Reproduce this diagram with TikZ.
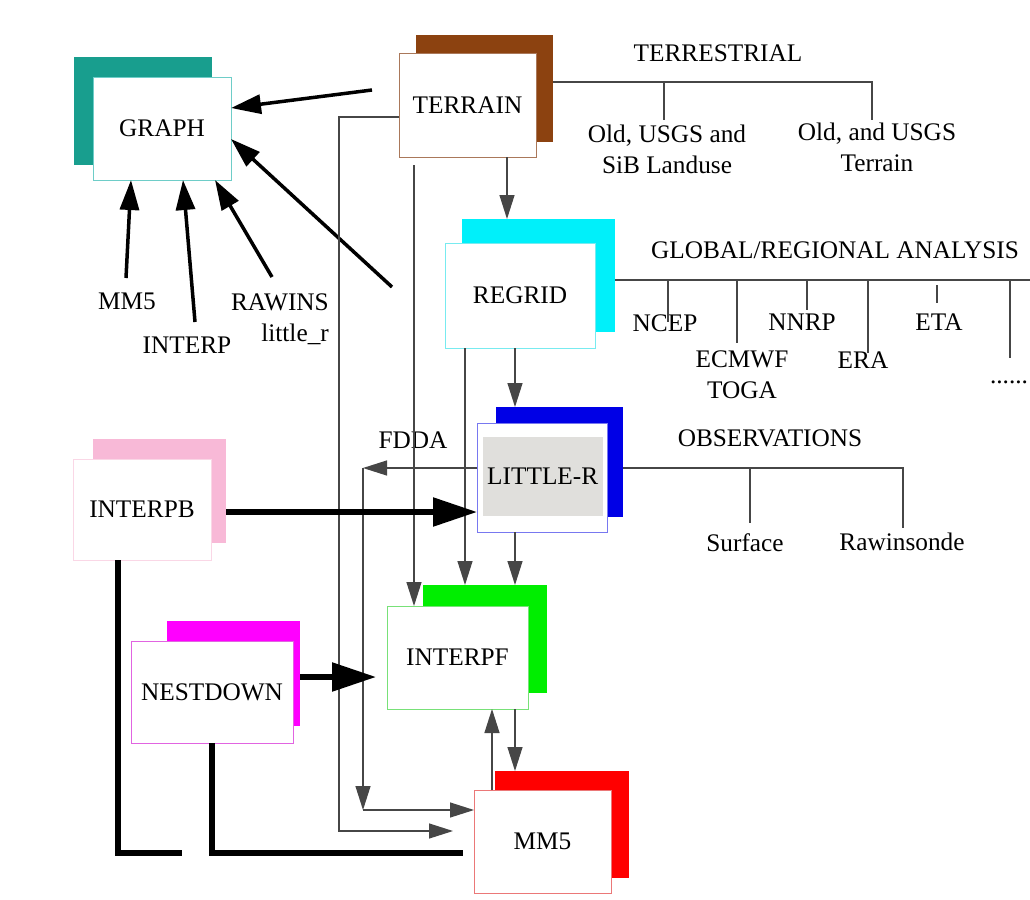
\documentclass[tikz,border=0pt]{standalone}
\usepackage{fontspec}
\setmainfont{Liberation Serif}
\usetikzlibrary{arrows.meta}
\definecolor{cGraph}{RGB}{24,158,142}
\definecolor{cGraphB}{RGB}{110,205,200}
\definecolor{cTerr}{RGB}{140,66,16}
\definecolor{cTerrB}{RGB}{170,120,90}
\definecolor{cRegrid}{RGB}{0,240,250}
\definecolor{cRegridB}{RGB}{120,235,240}
\definecolor{cLittle}{RGB}{0,0,230}
\definecolor{cLittleB}{RGB}{120,120,240}
\definecolor{cLittleF}{RGB}{224,223,220}
\definecolor{cInterpf}{RGB}{0,238,0}
\definecolor{cInterpfB}{RGB}{120,225,120}
\definecolor{cMM}{RGB}{255,0,0}
\definecolor{cMMB}{RGB}{235,120,120}
\definecolor{cInterpb}{RGB}{248,185,215}
\definecolor{cInterpbB}{RGB}{250,215,230}
\definecolor{cNest}{RGB}{255,0,255}
\definecolor{cNestB}{RGB}{225,100,225}
\definecolor{cLine}{RGB}{70,70,70}
\begin{document}
\begin{tikzpicture}[x=1pt,y=-1pt,
  txt/.style={font=\fontsize{25.3}{31}\selectfont},
  shad/.style={inner sep=0pt, outer sep=0pt, draw=none},
  box/.style={txt, draw, line width=1pt, fill=white, inner sep=0pt, outer sep=0pt},
  lbl/.style={txt, inner sep=0pt, anchor=base, align=center},
  thinline/.style={draw=cLine, line width=1.3pt},
  thintip/.style={-{Triangle[length=24pt,width=15pt]}},
  garrow/.style={draw=black, line width=3.5pt, -{Triangle[length=30pt,width=19pt]}},
  barrow/.style={draw=black, line width=5.5pt, -{Triangle[length=44pt,width=28pt]}},
  bus/.style={draw=black, line width=5.5pt, line join=miter},
]
\useasboundingbox[fill=white] (0,0) rectangle (1030,899);

% shadows
\node[shad, fill=cGraph,   minimum width=138pt, minimum height=108pt] (graphS)    at (143,111) {};
\node[shad, fill=cTerr,    minimum width=137pt, minimum height=107pt] (terrainS)  at (484.5,88.5) {};
\node[shad, fill=cRegrid,  minimum width=153pt, minimum height=113pt] (regridS)   at (538.5,275.5) {};
\node[shad, fill=cLittle,  minimum width=127pt, minimum height=110pt] (littlerS)  at (559.5,462) {};
\node[shad, fill=cInterpf, minimum width=124pt, minimum height=108pt] (interpfS)  at (485,639) {};
\node[shad, fill=cMM,      minimum width=134pt, minimum height=107pt] (mmS)       at (562,824.5) {};
\node[shad, fill=cInterpb, minimum width=133pt, minimum height=104pt] (interpbS)  at (159.5,491) {};
\node[shad, fill=cNest,    minimum width=133pt, minimum height=105pt] (nestdownS) at (233.5,673.5) {};

% front boxes
\node[box, draw=cGraphB,   minimum width=138pt, minimum height=103pt] (graph)    at (162,128.5) {GRAPH};
\node[box, draw=cTerrB,    minimum width=137pt, minimum height=103pt] (terrain)  at (467.5,105.5) {TERRAIN};
\node[box, draw=cRegridB,  minimum width=150pt, minimum height=105pt] (regrid)   at (520,295.5) {REGRID};
\node[box, draw=cLittleB,  minimum width=130pt, minimum height=109pt] (littler)  at (542,477.5) {};
\node[shad, fill=cLittleF, minimum width=120pt, minimum height=79pt, txt] (littlerIn) at (542.7,476.4) {LITTLE-R};
\node[box, draw=cInterpfB, minimum width=141pt, minimum height=103pt] (interpf)  at (457.5,657.5) {INTERPF};
\node[box, draw=cMMB,      minimum width=137pt, minimum height=103pt] (mm)       at (542.5,841.5) {MM5};
\node[box, draw=cInterpbB, minimum width=138pt, minimum height=101pt] (interpb)  at (142,509.5) {INTERPB};
\node[box, draw=cNestB,    minimum width=162pt, minimum height=102pt] (nestdown) at (212,692) {NESTDOWN};

% labels (base anchor of a two-line label is its last line)
\node[lbl] (lterr)  at (718,61.7) {TERRESTRIAL};
\node[lbl] (lsib)   at (667,173.4) {Old, USGS and\\SiB Landuse};
\node[lbl] (lter2)  at (877,171.7) {Old, and USGS\\Terrain};
\node[lbl] (lglob)  at (835,258.4) {GLOBAL/REGIONAL ANALYSIS};
\node[lbl] (lncep)  at (665,331.7) {NCEP};
\node[lbl] (lecm)   at (742,398.4) {ECMWF\\TOGA};
\node[lbl] (lnnrp)  at (802,330) {NNRP};
\node[lbl] (lera)   at (863,368.4) {ERA};
\node[lbl] (leta)   at (939,330) {ETA};
\node[lbl] (ldots)  at (1009,383) {......};
\node[lbl] (lobs)   at (770,446.7) {OBSERVATIONS};
\node[lbl] (lsurf)  at (745,551.7) {Surface};
\node[lbl] (lraw)   at (902,550) {Rawinsonde};
\node[lbl] (lfdda)  at (413,448) {FDDA};
\node[lbl] (lmm)    at (127,309.5) {MM5};
\node[lbl] (linterp) at (187,353.5) {INTERP};
\node[lbl, anchor=base east, align=right] (lrawins) at (329,341.7) {RAWINS\\little\_r};

% free ends
\coordinate (a1) at (372,90);
\coordinate (a2) at (392,287);
\coordinate (a3) at (126,278);
\coordinate (a4) at (195,322);
\coordinate (a5) at (272,277);
\coordinate (t1) at (339,831);
\coordinate (t2) at (453,831);
\coordinate (t3) at (414,165);
\coordinate (f1) at (363,468);
\coordinate (f2) at (363,810);
\coordinate (n1) at (376,677);
\coordinate (b1) at (118,853);
\coordinate (b2) at (182,853);
\coordinate (b3) at (212,853);
\coordinate (b4) at (463,853);

% arrows into GRAPH
\draw[garrow] (a1) -- (graph.east |- 0,108);
\draw[garrow] (a2) -- (graph.east |- 0,139);
\draw[garrow] (a3) -- (131,0 |- graph.south);
\draw[garrow] (a4) -- (183,0 |- graph.south);
\draw[garrow] (a5) -- (215,0 |- graph.south);

% thin connectors
\draw[thinline, thintip] (terrain.west |- 0,117) -| (t1) -- (t2);
\draw[thinline, thintip] (t3) -- (414,0 |- interpf.north);
\draw[thinline, thintip] (507,0 |- terrain.south) -- (507,0 |- regridS.north);
\draw[thinline, thintip] (465,0 |- regrid.south) -- (465,0 |- interpfS.north);
\draw[thinline, thintip] (515,0 |- regrid.south) -- (515,0 |- littlerS.north);
\draw[thinline, thintip] (515,0 |- littler.south) -- (515,0 |- interpfS.north);
\draw[thinline, thintip] (littler.west |- f1) -- (f1);
\draw[thinline, thintip] (f1) -- (f2);
\draw[thinline, thintip] (f2) -- (mm.west |- f2);
\draw[thinline, thintip] (492,0 |- mm.north) -- (492,0 |- interpf.south);
\draw[thinline, thintip] (515,0 |- interpf.south) -- (515,0 |- mmS.north);

% thick arrows and buses
\draw[barrow] (interpbS.east |- 0,512) -- (littler.west |- 0,512);
\draw[barrow] (nestdownS.east |- 0,677) -- (n1);
\draw[bus] (118,0 |- interpb.south) -- (b1) -- (b2);
\draw[bus] (212,0 |- nestdown.south) -- (b3) -- (b4);

% trees
\draw[thinline] (terrainS.east |- 0,82) -- (872,82) -- (872,120);
\draw[thinline] (664,82) -- (664,120);
\draw[thinline] (regridS.east |- 0,280) -- (1030,280);
\draw[thinline] (668,280) -- (668,322);
\draw[thinline] (737,280) -- (737,343);
\draw[thinline] (807,280) -- (807,310);
\draw[thinline] (868,280) -- (868,353);
\draw[thinline] (937,285) -- (937,303);
\draw[thinline] (1010,280) -- (1010,358);
\draw[thinline] (littlerS.east |- 0,468) -- (903,468) -- (903,528);
\draw[thinline] (750,468) -- (750,523);
\end{tikzpicture}
\end{document}
